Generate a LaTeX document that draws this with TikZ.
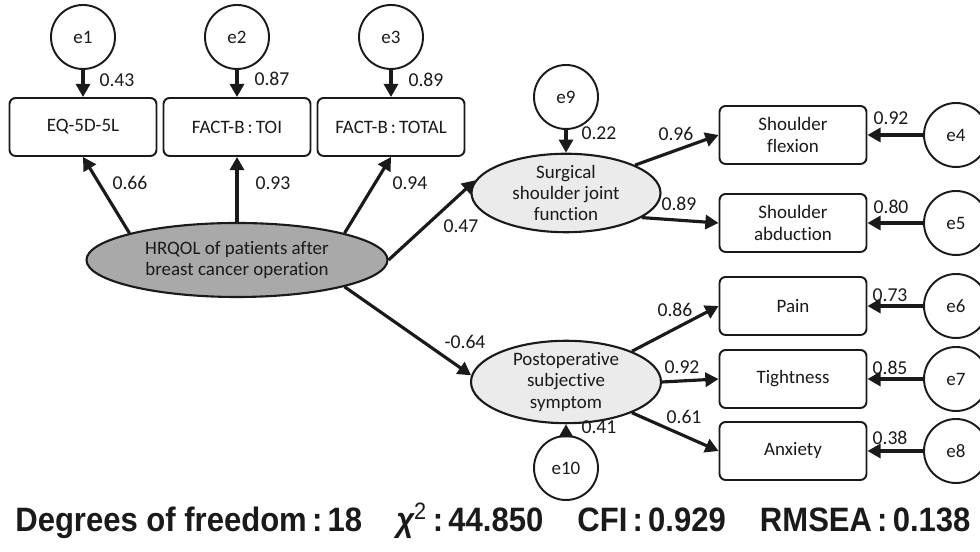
\documentclass[tikz,border=0pt]{standalone}
\usepackage{fontspec}
\usepackage{graphicx}
\setmainfont{Carlito}[Ligatures=NoCommon]
\newfontfamily\statfont{Liberation Sans}
\usetikzlibrary{arrows.meta,shapes.geometric}
\definecolor{ink}{HTML}{1A1A1A}
\definecolor{latdark}{HTML}{A9A9A9}
\definecolor{latlight}{HTML}{EBEBEB}

\begin{document}
\begin{tikzpicture}[
  font=\fontsize{10.8}{12}\selectfont,
  measure/.style={
    draw=ink,
    rounded corners=3.5pt,
    line width=1.1pt,
    fill=white,
    minimum width=2.94cm,
    minimum height=1.16cm,
    align=center,
    inner sep=2pt,
    text=ink
  },
  latent/.style={
    ellipse,
    draw=ink,
    line width=1.2pt,
    inner sep=0pt,
    align=center,
    text=ink
  },
  resid/.style={circle, draw=ink, line width=1.1pt, minimum size=1.28cm, inner sep=0pt, text=ink},
  coef/.style={text=ink, inner sep=1pt, font=\fontsize{11.2}{12}\selectfont},
  link/.style={-{Triangle[length=7.5pt,width=8pt]}, line width=1.8pt, draw=ink}
]

\useasboundingbox (0,0) rectangle (19.6,11.04);

\node[resid] (e1) at (1.66,10.30) {e1};
\node[resid] (e2) at (4.74,10.30) {e2};
\node[resid] (e3) at (7.82,10.30) {e3};

\node[measure] (eqd) at (1.66,8.50) {EQ-5D-5L};
\node[measure] (toi) at (4.74,8.50) {FACT-B\,:\,TOI};
\node[measure] (total) at (7.82,8.50) {FACT-B\,:\,TOTAL};

\node[latent, fill=latdark, minimum width=6.02cm, minimum height=1.48cm] (hrqol) at (4.74,5.84)
  {HRQOL of patients after\\breast cancer operation};

\node[latent, fill=latlight, minimum width=3.78cm, minimum height=1.34cm] (surg) at (11.32,7.18)
  {Surgical\\shoulder joint\\function};
\node[latent, fill=latlight, minimum width=3.80cm, minimum height=1.30cm] (postop) at (11.32,3.40)
  {Postoperative\\subjective\\symptom};

\node[resid] (e9) at (11.32,9.10) {e9};
\node[resid] (e10) at (11.32,1.68) {e10};

\node[measure] (flex) at (15.86,8.34) {Shoulder\\flexion};
\node[measure] (abduct) at (15.86,6.58) {Shoulder\\abduction};
\node[measure] (pain) at (15.86,4.92) {Pain};
\node[measure] (tight) at (15.86,3.46) {Tightness};
\node[measure] (anx) at (15.86,2.02) {Anxiety};

\node[resid] (e4) at (19.12,8.34) {e4};
\node[resid] (e5) at (19.12,6.58) {e5};
\node[resid] (e6) at (19.12,4.92) {e6};
\node[resid] (e7) at (19.12,3.46) {e7};
\node[resid] (e8) at (19.12,2.02) {e8};

\draw[link] (e1) -- (eqd);
\draw[link] (e2) -- (toi);
\draw[link] (e3) -- (total);
\draw[link] (hrqol.166) -- (eqd.south);
\draw[link] (hrqol.north) -- (toi.south);
\draw[link] (hrqol.14) -- (total.south);
\draw[link] (hrqol.east) -- (surg.172);
\draw[link] (hrqol.-14) -- (postop.176);
\draw[link] (e9) -- (surg);
\draw[link] (e10) -- (postop);
\draw[link] (surg.22) -- (flex.west);
\draw[link] (surg.-18) -- (abduct.west);
\draw[link] (postop.25) -- (pain.west);
\draw[link] (postop.east) -- (tight.west);
\draw[link] (postop.-25) -- (anx.west);
\draw[link] (e4) -- (flex);
\draw[link] (e5) -- (abduct);
\draw[link] (e6) -- (pain);
\draw[link] (e7) -- (tight);
\draw[link] (e8) -- (anx);

\node[coef] (c1) at (2.34,9.44) {0.43};
\node[coef] (c2) at (5.44,9.46) {0.87};
\node[coef] (c3) at (8.52,9.44) {0.89};
\node[coef] (l1) at (2.60,7.38) {0.66};
\node[coef] (l2) at (5.46,7.38) {0.93};
\node[coef] (l3) at (8.20,7.38) {0.94};
\node[coef] (p1) at (9.22,6.52) {0.47};
\node[coef] (p2) at (9.30,4.20) {-0.64};
\node[coef] (c9) at (11.98,8.38) {0.22};
\node[coef] (c10) at (11.98,2.50) {0.41};
\node[coef] (l4) at (13.52,8.36) {0.96};
\node[coef] (l5) at (13.58,6.96) {0.89};
\node[coef] (l6) at (13.50,4.84) {0.86};
\node[coef] (l7) at (13.64,3.70) {0.92};
\node[coef] (l8) at (13.68,2.70) {0.61};
\node[coef] (c4) at (17.82,8.68) {0.92};
\node[coef] (c5) at (17.82,6.90) {0.80};
\node[coef] (c6) at (17.80,5.14) {0.73};
\node[coef] (c7) at (17.80,3.68) {0.85};
\node[coef] (c8) at (17.80,2.28) {0.38};

\node[anchor=base west, inner sep=0pt, text=ink] (fitstats) at (0.30,0.40)
  {\resizebox{19.1cm}{0.58cm}{\statfont\bfseries Degrees of freedom\,:\,18\hspace{1.1em}{\itshape χ}\textsuperscript{\mdseries 2}\,:\,44.850\hspace{1.1em}CFI\,:\,0.929\hspace{1.1em}RMSEA\,:\,0.138}};

\end{tikzpicture}
\end{document}
